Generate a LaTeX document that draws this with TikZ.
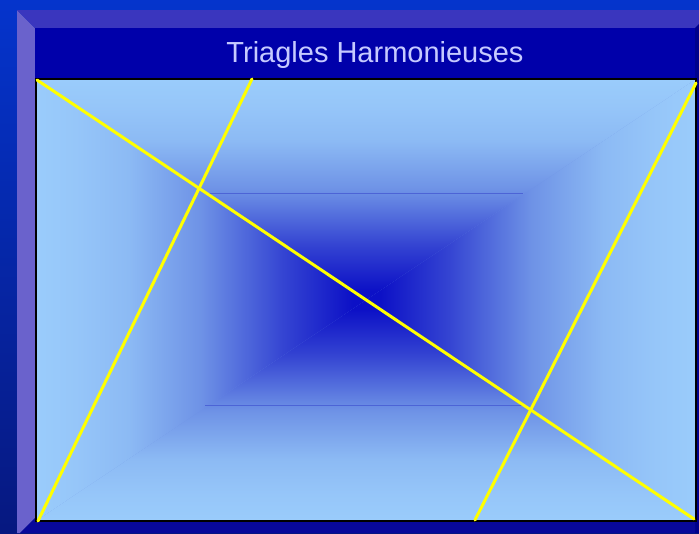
\documentclass[tikz,border=0pt]{standalone}
\usepackage{fontspec}
\setmainfont{Liberation Sans}
\definecolor{cC}{HTML}{0C10C6}
\definecolor{cQ}{HTML}{3444D2}
\definecolor{cM}{HTML}{6E92E6}
\definecolor{cR}{HTML}{8CBAF4}
\definecolor{cS}{HTML}{96C6F9}
\definecolor{cL}{HTML}{9ACCFB}
\definecolor{bgtop}{HTML}{0534CC}
\definecolor{bgbot}{HTML}{061880}
\definecolor{lav}{HTML}{6A62CC}
\definecolor{topbev}{HTML}{3A36BE}
\definecolor{panel}{HTML}{0000AA}
\definecolor{rshadow}{HTML}{00008C}
\definecolor{bshadow}{HTML}{08089A}
\definecolor{titlec}{HTML}{C6CAFF}
\definecolor{seam}{HTML}{4C64D6}
\pgfdeclareverticalshading{pyr}{100bp}{color(0bp)=(cC); color(25bp)=(cC); color(27bp)=(cC); color(37.5bp)=(cQ); color(50bp)=(cM); color(61bp)=(cR); color(69bp)=(cS); color(75bp)=(cL); color(100bp)=(cL)}
\tikzset{
  yline/.style={draw={rgb,255:red,255;green,255;blue,0}, line width=2.25pt, line cap=round},
  seamline/.style={draw=seam, line width=0.6pt},
  titletext/.style={text=titlec, font=\fontsize{21.75pt}{26pt}\selectfont, inner sep=0pt, anchor=base}
}
\begin{document}
\begin{tikzpicture}[x=0.75pt,y=-0.75pt]
\useasboundingbox (0,0) rectangle (699,533);
% background
\shade[top color=bgtop, bottom color=bgbot] (0,0) rectangle (699,533);
% bevels
\fill[lav] (17,10) -- (35,28) -- (35,518) -- (20,533) -- (17,533) -- cycle;
\fill[topbev] (17,10) -- (699,10) -- (699,24) -- (695,28) -- (35,28) -- cycle;
\fill[panel] (35,28) rectangle (695,533);
\fill[rshadow] (695,28) -- (699,24) -- (699,533) -- (695,533) -- cycle;
\fill[bshadow] (20,533) -- (35,518) -- (695,518) -- (695,533) -- cycle;
% title
\node[titletext] (title) at (375,62) {Triagles Harmonieuses};
% gradient panel
\coordinate (TL) at (36,79);
\coordinate (TR) at (696,79);
\coordinate (BR) at (696,521);
\coordinate (BL) at (36,521);
\coordinate (C) at (366,300);
\fill[cM] (TL) rectangle (BR);
\shade[shading=pyr] (TL) -- (TR) -- (C) -- cycle;
\shade[shading=pyr, shading angle=180] (BL) -- (BR) -- (C) -- cycle;
\shade[shading=pyr, shading angle=90] (TL) -- (BL) -- (C) -- cycle;
\shade[shading=pyr, shading angle=-90] (TR) -- (BR) -- (C) -- cycle;
% faint seams
\coordinate (s1a) at (205,193);
\coordinate (s1b) at (523,193);
\coordinate (s2a) at (205,405);
\coordinate (s2b) at (527,405);
\draw[seamline] (s1a) -- (s1b);
\draw[seamline] (s2a) -- (s2b);
% frame
\draw[black, line width=1.5pt] (TL) rectangle (BR);
% yellow lines
\coordinate (a1) at (37,80);
\coordinate (a2) at (694,519);
\coordinate (b1) at (252,79);
\coordinate (b2) at (38,521);
\coordinate (c1) at (696,83);
\coordinate (c2) at (475,520);
\draw[yline] (a1) -- (a2);
\draw[yline] (b1) -- (b2);
\draw[yline] (c1) -- (c2);
\end{tikzpicture}
\end{document}
